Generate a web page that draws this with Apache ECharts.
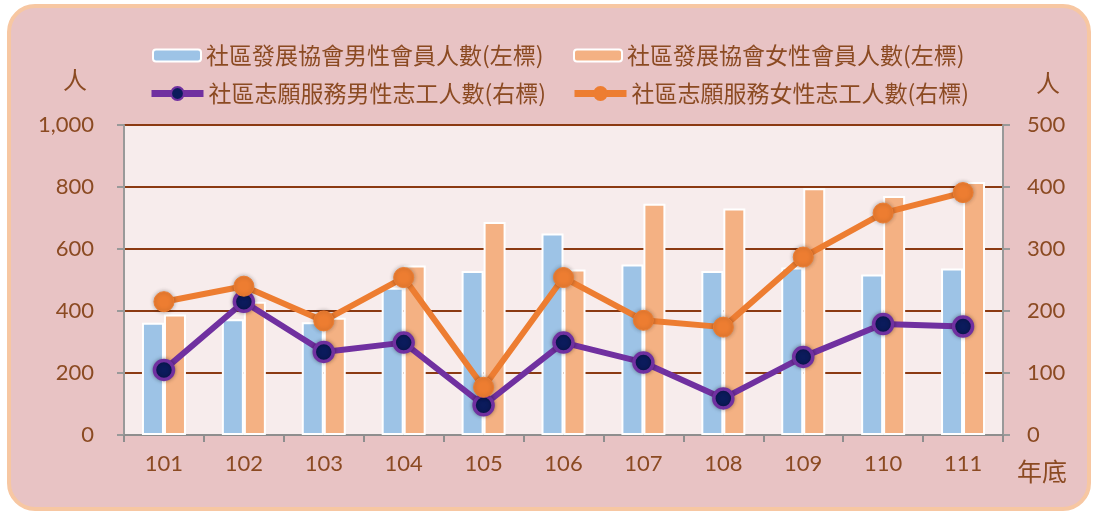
<!DOCTYPE html>
<html><head><meta charset="utf-8">
<script src="https://cdn.jsdelivr.net/npm/echarts@6/dist/echarts.min.js"></script>
<style>html,body{margin:0;padding:0;background:#fff}#c{width:1096px;height:514px}</style>
</head><body><div id="c"></div>
<script>
const categories = ['101','102','103','104','105','106','107','108','109','110','111'];
const maleMembers = [362, 373, 364, 475, 529, 650, 550, 529, 540, 518, 537];
const femaleMembers = [389, 430, 378, 547, 687, 534, 746, 731, 796, 771, 816];
const maleVolunteers = [105, 215, 134, 149, 48, 149, 117, 59, 126, 179, 175];
const femaleVolunteers = [215, 240, 184, 254, 77, 254, 185, 174, 287, 358, 391];
const leftTicks = [0, 200, 400, 600, 800, 1000];
const rightTicks = [0, 100, 200, 300, 400, 500];
const names = ['社區發展協會男性會員人數(左標)','社區發展協會女性會員人數(左標)','社區志願服務男性志工人數(右標)','社區志願服務女性志工人數(右標)'];

const brown = '#8b4a22';
const cjk = "'Noto Sans CJK TC', 'Noto Sans CJK SC', sans-serif";
const num = "Lato, 'Noto Sans', sans-serif";
const chart = echarts.init(document.getElementById('c'));
const legendBase = {orient:'horizontal', padding:0, itemGap:10, textStyle:{fontFamily:cjk, fontSize:23, color:brown}};
chart.setOption({
  animation:false,
  graphic:[
    {type:'rect', z:-10, shape:{x:9, y:6, width:1080, height:503, r:26}, style:{fill:'#e8c3c4', stroke:'#f7c7a2', lineWidth:4}},
    {type:'text', z:10, style:{text:'人', x:75, y:80, align:'center', verticalAlign:'middle', font:"24px 'Noto Sans CJK TC'", fill:brown}},
    {type:'text', z:10, style:{text:'人', x:1048, y:83, align:'center', verticalAlign:'middle', font:"24px 'Noto Sans CJK TC'", fill:brown}},
    {type:'text', z:10, style:{text:'年底', x:1042, y:471, align:'center', verticalAlign:'middle', font:"25px 'Noto Sans CJK TC'", fill:brown}}
  ],
  legend:[
    Object.assign({}, legendBase, {left:152, top:44, data:[names[0]], itemWidth:48, itemHeight:12}),
    Object.assign({}, legendBase, {left:573, top:44, data:[names[1]], itemWidth:48, itemHeight:12}),
    Object.assign({}, legendBase, {left:148, top:82, data:[names[2]], itemWidth:52, itemHeight:16, lineStyle:{width:7}}),
    Object.assign({}, legendBase, {left:571, top:82, data:[names[3]], itemWidth:52, itemHeight:16, lineStyle:{width:7}})
  ],
  grid:{left:124, right:93, top:125, bottom:79, show:true, backgroundColor:'#f7ecec', borderWidth:0},
  xAxis:{type:'category', data:categories,
    axisLine:{lineStyle:{color:'#8e8e8e', width:2}},
    axisTick:{show:true, length:7, lineStyle:{color:'#8e8e8e', width:2}},
    axisLabel:{color:brown, fontFamily:num, fontSize:22, margin:18}},
  yAxis:[
    {type:'value', min:0, max:1000, interval:200, position:'left',
     axisLine:{show:true, lineStyle:{color:'#999', width:2}},
     axisTick:{show:true, length:7, lineStyle:{color:'#999', width:2}},
     splitLine:{show:true, lineStyle:{color:'#8b3a12', width:2}},
     axisLabel:{color:brown, fontFamily:num, fontSize:22, margin:30,
       formatter:v => leftTicks.includes(v) ? v.toLocaleString('en-US') : ''}},
    {type:'value', min:0, max:500, interval:100, position:'right',
     axisLine:{show:true, lineStyle:{color:'#999', width:2}},
     axisTick:{show:true, length:7, lineStyle:{color:'#999', width:2}},
     splitLine:{show:false},
     axisLabel:{color:brown, fontFamily:num, fontSize:22, margin:24,
       formatter:v => rightTicks.includes(v) ? String(v) : ''}}
  ],
  series:[
    {name:names[0], type:'bar', yAxisIndex:0, data:maleMembers, barWidth:22, barGap:'0%',
     itemStyle:{color:'#9dc3e6', borderColor:'#ffffff', borderWidth:2}},
    {name:names[1], type:'bar', yAxisIndex:0, data:femaleMembers, barWidth:22, barGap:'0%',
     itemStyle:{color:'#f4b183', borderColor:'#ffffff', borderWidth:2}},
    {name:names[2], type:'line', yAxisIndex:1, data:maleVolunteers, symbol:'circle', symbolSize:19,
     lineStyle:{color:'#7030a0', width:6},
     itemStyle:{color:'#0b1b5c', borderColor:'#7030a0', borderWidth:3.5, shadowBlur:4, shadowColor:'rgba(0,0,0,0.35)'}},
    {name:names[3], type:'line', yAxisIndex:1, data:femaleVolunteers, symbol:'circle', symbolSize:20,
     lineStyle:{color:'#ed7d31', width:6},
     itemStyle:{color:'#ed7d31', borderColor:'#ed7d31', borderWidth:1, shadowBlur:4, shadowColor:'rgba(0,0,0,0.3)'}}
  ]
});
</script></body></html>
